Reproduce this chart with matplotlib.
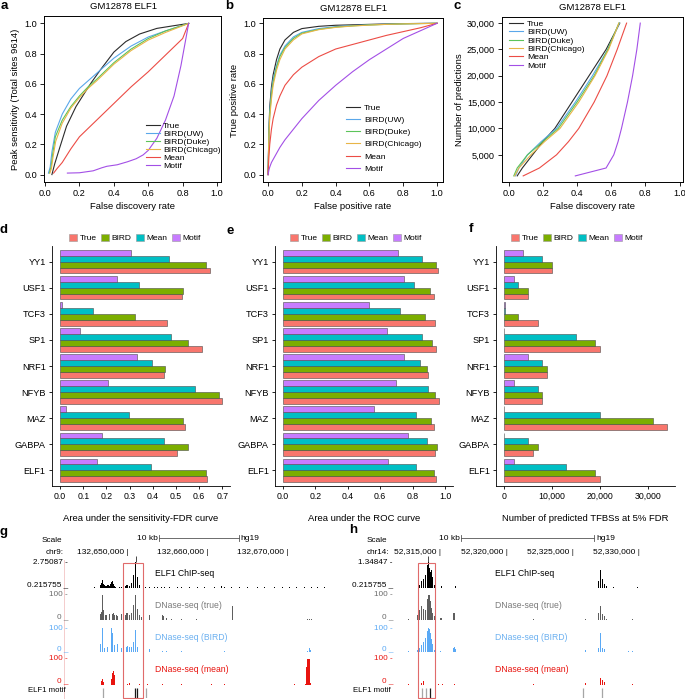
import matplotlib
matplotlib.use("Agg")
import matplotlib.pyplot as plt
import matplotlib.transforms as mtransforms
from matplotlib.patches import Patch, Rectangle
from matplotlib.lines import Line2D
from matplotlib.ticker import FuncFormatter

plt.rcParams['font.family'] = ['Liberation Sans', 'DejaVu Sans']

# ---------------- data ----------------
methods = ['True', 'BIRD(UW)', 'BIRD(Duke)', 'BIRD(Chicago)', 'Mean', 'Motif']

# a: peak sensitivity vs FDR
a_fdr = {
    'True': [0.04, 0.056, 0.086, 0.125, 0.18, 0.23, 0.27, 0.32, 0.40, 0.47, 0.55, 0.65, 0.75, 0.835],
    'BIRD(UW)': [0.02, 0.03, 0.04, 0.06, 0.1, 0.15, 0.2, 0.25, 0.3, 0.4, 0.5, 0.6, 0.7, 0.835],
    'BIRD(Duke)': [0.025, 0.035, 0.045, 0.06, 0.1, 0.15, 0.2, 0.25, 0.3, 0.4, 0.5, 0.6, 0.7, 0.835],
    'BIRD(Chicago)': [0.028, 0.037, 0.047, 0.062, 0.1, 0.15, 0.2, 0.25, 0.3, 0.4, 0.5, 0.6, 0.7, 0.835],
    'Mean': [0.05, 0.07, 0.1, 0.15, 0.2, 0.3, 0.4, 0.5, 0.6, 0.7, 0.8, 0.835],
    'Motif': [0.13, 0.2, 0.28, 0.33, 0.36, 0.42, 0.48, 0.53, 0.57, 0.6, 0.65, 0.7, 0.75, 0.79, 0.835],
}
a_sens = {
    'True': [0.0, 0.07, 0.18, 0.32, 0.45, 0.54, 0.61, 0.69, 0.81, 0.88, 0.93, 0.967, 0.985, 1.0],
    'BIRD(UW)': [0.01, 0.05, 0.15, 0.28, 0.40, 0.50, 0.57, 0.62, 0.67, 0.77, 0.85, 0.91, 0.95, 1.0],
    'BIRD(Duke)': [0.01, 0.05, 0.14, 0.25, 0.36, 0.45, 0.52, 0.58, 0.63, 0.74, 0.83, 0.90, 0.95, 1.0],
    'BIRD(Chicago)': [0.01, 0.04, 0.12, 0.22, 0.34, 0.44, 0.51, 0.57, 0.62, 0.73, 0.82, 0.89, 0.94, 1.0],
    'Mean': [0.01, 0.04, 0.08, 0.17, 0.25, 0.36, 0.47, 0.58, 0.68, 0.79, 0.90, 1.0],
    'Motif': [0.01, 0.012, 0.025, 0.045, 0.055, 0.065, 0.085, 0.105, 0.13, 0.16, 0.24, 0.36, 0.52, 0.72, 1.0],
}

# b: ROC
b_fpr = [0, 0.005, 0.01, 0.02, 0.03, 0.05, 0.07, 0.1, 0.15, 0.2, 0.3, 0.4, 0.5, 0.6, 0.7, 0.8, 0.9, 1.0]
b_tpr = {
    'True': [0, 0.3, 0.45, 0.58, 0.66, 0.76, 0.83, 0.89, 0.94, 0.965, 0.98, 0.987, 0.99, 0.993, 0.996, 0.998, 0.999, 1.0],
    'BIRD(UW)': [0, 0.28, 0.42, 0.55, 0.63, 0.72, 0.79, 0.85, 0.91, 0.94, 0.965, 0.978, 0.985, 0.99, 0.994, 0.997, 0.999, 1.0],
    'BIRD(Duke)': [0, 0.27, 0.40, 0.53, 0.61, 0.71, 0.78, 0.84, 0.90, 0.935, 0.96, 0.975, 0.983, 0.989, 0.993, 0.996, 0.998, 1.0],
    'BIRD(Chicago)': [0, 0.25, 0.38, 0.50, 0.59, 0.69, 0.76, 0.83, 0.89, 0.93, 0.958, 0.973, 0.982, 0.988, 0.993, 0.996, 0.998, 1.0],
    'Mean': [0, 0.12, 0.20, 0.30, 0.37, 0.46, 0.52, 0.59, 0.66, 0.71, 0.78, 0.83, 0.86, 0.89, 0.92, 0.945, 0.97, 1.0],
    'Motif': [0, 0.03, 0.05, 0.08, 0.10, 0.14, 0.18, 0.23, 0.30, 0.37, 0.49, 0.59, 0.68, 0.76, 0.83, 0.90, 0.95, 1.0],
}

# c: number of predictions vs FDR
c_npred = [1000, 2500, 5000, 7500, 10000, 15000, 20000, 25000, 30000]
c_fdr = {
    'True': [0.05, 0.08, 0.14, 0.20, 0.27, 0.37, 0.47, 0.57, 0.65],
    'BIRD(UW)': [0.04, 0.06, 0.11, 0.19, 0.28, 0.39, 0.49, 0.58, 0.648],
    'BIRD(Duke)': [0.03, 0.05, 0.11, 0.20, 0.29, 0.40, 0.50, 0.58, 0.645],
    'BIRD(Chicago)': [0.035, 0.06, 0.13, 0.21, 0.30, 0.41, 0.505, 0.585, 0.645],
    'Mean': [0.085, 0.18, 0.28, 0.35, 0.41, 0.50, 0.575, 0.635, 0.69],
    'Motif': [0.39, 0.57, 0.615, 0.64, 0.66, 0.695, 0.725, 0.75, 0.77],
}

# d-f: per-TF summaries
tfs = ['ELF1', 'GABPA', 'MAZ', 'NFYB', 'NRF1', 'SP1', 'TCF3', 'USF1', 'YY1']
groups = ['True', 'BIRD', 'Mean', 'Motif']
d_true = [0.634, 0.503, 0.54, 0.70, 0.45, 0.611, 0.46, 0.526, 0.646]
d_bird = [0.631, 0.553, 0.529, 0.684, 0.453, 0.553, 0.323, 0.529, 0.631]
d_mean = [0.391, 0.45, 0.296, 0.584, 0.396, 0.477, 0.143, 0.339, 0.470]
d_motif = [0.157, 0.181, 0.027, 0.207, 0.331, 0.086, 0.010, 0.246, 0.307]

e_true = [0.947, 0.940, 0.930, 0.961, 0.893, 0.947, 0.940, 0.930, 0.955]
e_bird = [0.932, 0.951, 0.916, 0.940, 0.887, 0.918, 0.875, 0.910, 0.943]
e_mean = [0.823, 0.891, 0.823, 0.897, 0.848, 0.856, 0.725, 0.807, 0.860]
e_motif = [0.651, 0.772, 0.559, 0.700, 0.745, 0.641, 0.530, 0.745, 0.713]

f_true = [20000, 6000, 34000, 8000, 9000, 20000, 7000, 5000, 10000]
f_bird = [19000, 7000, 31000, 8000, 9000, 19000, 3000, 5000, 10000]
f_mean = [13000, 5000, 20000, 7000, 8000, 15000, 200, 3000, 8000]
f_motif = [2000, 50, 50, 2000, 5000, 50, 200, 2000, 4000]

# g: chr9 window, positions in kb relative to 132,650,000
g_ticks = [0, 10, 20]
g_tick_labels = ['132,650,000', '132,660,000', '132,670,000']
g_chip = [(-6.63, 0.26), (-5.5, 0.25), (-4.75, 0.28), (-4.13, 0.27), (-3.5, 0.4), (-3.38, 0.5), (-3.25, 0.7),
          (-3.13, 0.95), (-3.0, 0.6), (-2.88, 0.5), (-2.75, 0.45), (-2.63, 0.4), (-2.5, 0.5), (-2.38, 0.55),
          (-2.25, 0.45), (-2.13, 0.6), (-2.0, 0.8), (-1.88, 0.9), (-1.75, 0.6), (-1.63, 0.4), (-1.5, 0.3),
          (-1.25, 0.25), (-1.0, 0.3), (-0.75, 0.3), (-0.5, 0.35), (-0.25, 0.45), (-0.13, 0.5), (0.0, 0.55),
          (0.13, 0.45), (0.25, 0.4), (0.38, 0.5), (0.5, 0.7), (0.63, 1.0), (0.75, 1.5), (0.88, 2.2), (1.0, 2.75),
          (1.13, 2.0), (1.25, 1.3), (1.38, 0.8), (1.5, 0.5), (1.63, 0.3), (2.25, 0.28), (2.75, 0.3), (3.38, 0.27),
          (3.75, 0.3), (4.25, 0.28), (4.63, 0.3), (5.25, 0.3), (6.25, 0.33), (6.75, 0.32), (7.75, 0.28),
          (8.75, 0.28), (9.63, 0.27), (10.88, 0.3), (11.75, 0.4), (12.13, 0.35), (13.0, 0.3), (14.0, 0.32),
          (15.0, 0.28), (16.25, 0.28), (17.13, 0.3), (18.38, 0.28), (19.38, 0.3), (20.25, 0.27), (21.13, 0.3),
          (22.13, 0.3), (23.0, 0.32), (23.75, 0.28), (24.63, 0.3)]
g_true = [(-6.75, 2), (-4.5, 3), (-3.38, 25), (-3.25, 33), (-3.13, 100), (-3.0, 40), (-2.75, 20), (-2.63, 20),
          (-2.25, 25), (-1.88, 25), (-1.75, 27), (-1.63, 22), (-1.38, 20), (-1.25, 18), (-0.75, 25), (-0.25, 22),
          (-0.13, 28), (0.0, 30), (0.13, 25), (0.25, 22), (0.38, 28), (0.5, 30), (0.63, 38), (0.75, 60),
          (0.88, 100), (1.0, 100), (1.13, 75), (1.25, 45), (1.5, 20), (1.75, 12), (2.13, 15), (2.38, 12),
          (2.63, 18), (2.75, 20), (2.88, 14), (4.38, 22), (4.5, 18), (4.88, 8), (5.5, 5), (6.75, 5), (8.63, 3),
          (10.63, 2), (13.13, 57), (19.63, 2), (22.5, 3), (22.75, 5), (23.0, 3)]
g_bird = [(-6.75, 2), (-4.5, 2), (-3.38, 35), (-3.13, 100), (-2.88, 15), (-2.5, 22), (-2.0, 100), (-1.88, 80),
          (-1.63, 30), (-1.25, 35), (-0.75, 15), (-0.13, 20), (0.0, 25), (0.13, 18), (0.25, 22), (0.38, 28),
          (0.5, 22), (0.63, 25), (0.75, 40), (0.88, 55), (1.0, 90), (1.13, 40), (1.25, 20), (1.88, 10),
          (2.13, 12), (2.38, 8), (2.63, 20), (2.75, 12), (3.13, 5), (4.38, 5), (4.88, 3), (6.75, 3), (10.5, 2),
          (12.13, 3), (19.63, 2), (22.5, 5), (22.75, 15), (22.88, 8)]
g_mean = [(-6.75, 3), (-4.5, 2), (-3.25, 15), (-3.13, 25), (-3.0, 10), (-2.0, 25), (-1.88, 45), (-1.75, 55),
          (-1.63, 40), (0.0, 5), (0.25, 8), (0.38, 6), (1.5, 3), (2.5, 2), (4.38, 5), (6.75, 2), (10.5, 2),
          (12.13, 2), (20.88, 2), (22.25, 5), (22.38, 70), (22.5, 100), (22.63, 100), (22.75, 100), (22.88, 8)]
g_motif_kb = [-3.13, 0.88, 1.13, 2.25]
g_motif_score = [0.4, 1.0, 1.0, 0.4]

# h: chr14 window, positions in kb relative to 52,315,000
h_ticks = [0, 5, 10, 15]
h_tick_labels = ['52,315,000', '52,320,000', '52,325,000', '52,330,000']
h_chip = [(-1.66, 0.3), (-1.58, 0.35), (-1.51, 0.4), (-1.43, 0.5), (-1.36, 0.45), (-1.28, 0.6), (-1.21, 0.7),
          (-1.13, 0.8), (-1.06, 1.0), (-0.98, 1.2), (-0.90, 1.35), (-0.83, 1.1), (-0.75, 0.9), (-0.68, 1.0),
          (-0.60, 0.7), (-0.53, 0.5), (-0.45, 0.35), (-0.38, 0.28), (0.08, 0.3), (0.60, 0.28), (1.13, 0.3),
          (9.27, 0.24), (11.98, 0.5), (12.06, 1.0), (12.13, 0.9), (12.21, 0.8), (12.28, 0.6), (12.36, 0.5),
          (12.43, 0.4), (12.51, 0.35), (12.58, 0.3), (12.81, 0.26), (13.04, 0.25), (14.92, 0.24)]
h_true = [(-2.41, 6), (-1.73, 20), (-1.66, 30), (-1.58, 40), (-1.51, 35), (-1.43, 55), (-1.36, 62), (-1.28, 45),
          (-1.21, 35), (-1.13, 40), (-1.06, 60), (-0.98, 85), (-0.90, 100), (-0.83, 100), (-0.75, 75),
          (-0.68, 50), (-0.60, 30), (-0.53, 22), (-0.45, 15), (-0.08, 8), (0.0, 10), (0.08, 8), (0.60, 10),
          (0.90, 15), (0.98, 28), (1.06, 28), (4.37, 3), (7.01, 3), (10.93, 3), (11.00, 4), (11.91, 20),
          (11.98, 30), (12.06, 57), (12.13, 30), (12.21, 25), (12.28, 25), (12.36, 22), (12.43, 15),
          (12.51, 10), (12.58, 5), (14.17, 10), (14.54, 3)]
h_bird = [(-2.41, 5), (-1.73, 8), (-1.66, 12), (-1.58, 18), (-1.51, 20), (-1.43, 28), (-1.36, 32), (-1.28, 40),
          (-1.21, 48), (-1.13, 58), (-1.06, 70), (-0.98, 88), (-0.90, 100), (-0.83, 95), (-0.75, 80),
          (-0.68, 55), (-0.60, 35), (-0.53, 15), (-0.45, 8), (0.0, 5), (0.98, 15), (1.06, 22), (1.13, 12),
          (4.37, 2), (7.01, 2), (10.93, 6), (11.00, 8), (11.98, 15), (12.06, 80), (12.13, 60), (12.21, 25),
          (12.28, 18), (12.36, 15), (12.43, 12), (12.51, 8), (14.17, 12), (14.24, 6), (14.54, 3)]
h_mean = [(-2.41, 3), (-1.66, 3), (-1.43, 8), (-1.36, 18), (-1.28, 15), (-1.21, 6), (-0.15, 3), (0.15, 3),
          (1.06, 5), (4.37, 3), (7.01, 4), (10.93, 5), (11.00, 8), (12.06, 22), (12.13, 27), (12.21, 25),
          (12.28, 20), (12.36, 18), (12.43, 12), (12.51, 6), (14.17, 5), (14.54, 5)]
h_motif_kb = [-1.36, -1.06, -0.75, 10.78, 12.21]
h_motif_score = [0.4, 0.4, 1.0, 0.4, 0.4]

# ---------------- layout helpers ----------------
W, H = 685, 699
fig = plt.figure(figsize=(W / 100, H / 100), dpi=100)


def box(l, t, r, b):
    return fig.add_axes([l / W, 1 - b / H, (r - l) / W, (b - t) / H])


def ftxt(x, y, s, **kw):
    kw.setdefault('fontsize', 5.9)
    kw.setdefault('va', 'center')
    fig.text(x / W, 1 - y / H, s, **kw)


line_colors = ['#2b2b2b', '#5aa7ea', '#5cc45a', '#e8b547', '#ec4c45', '#a34fe6']
bar_colors = ['#F8766D', '#7CAE00', '#00BFC4', '#C77CFF']


def style_curve_ax(ax):
    for s in ax.spines.values():
        s.set_linewidth(0.7)
    ax.tick_params(direction='out', length=3, width=0.6, labelsize=6.6, pad=2)


# ---------------- a ----------------
ax = box(44, 16, 221, 182)
for m, col in zip(methods, line_colors):
    ax.plot(a_fdr[m], a_sens[m], color=col, lw=0.8, label=m)
ax.set_xlim(-0.006, 1.023)
ax.set_ylim(-0.049, 1.049)
ax.set_xticks([0, 0.2, 0.4, 0.6, 0.8, 1.0])
ax.set_yticks([0, 0.2, 0.4, 0.6, 0.8, 1.0])
ax.xaxis.set_major_formatter(FuncFormatter(lambda v, p: f'{v:.1f}'))
ax.yaxis.set_major_formatter(FuncFormatter(lambda v, p: f'{v:.1f}'))
style_curve_ax(ax)
ax.set_title('GM12878 ELF1', fontsize=6.8, x=0.45, pad=5)
ax.set_xlabel('False discovery rate', fontsize=6.8, labelpad=3)
ax.set_ylabel('Peak sensitivity (Total sites 9614)', fontsize=6.8, labelpad=3)
ax.legend(loc='upper left', bbox_to_anchor=(146 / W, 1 - 122 / H), bbox_transform=fig.transFigure,
          frameon=False, fontsize=6.1, handlelength=1.6, handletextpad=0.4, labelspacing=0.0,
          borderpad=0, borderaxespad=0)

# ---------------- b ----------------
ax = box(263, 18, 443, 182)
for m, col in zip(methods, line_colors):
    ax.plot(b_fpr, b_tpr[m], color=col, lw=0.8, label=m)
ax.set_xlim(-0.03, 1.035)
ax.set_ylim(-0.049, 1.035)
ax.set_xticks([0, 0.2, 0.4, 0.6, 0.8, 1.0])
ax.set_yticks([0, 0.2, 0.4, 0.6, 0.8, 1.0])
ax.xaxis.set_major_formatter(FuncFormatter(lambda v, p: f'{v:.1f}'))
ax.yaxis.set_major_formatter(FuncFormatter(lambda v, p: f'{v:.1f}'))
style_curve_ax(ax)
ax.set_title('GM12878 ELF1', fontsize=6.8, pad=5)
ax.set_xlabel('False positive rate', fontsize=6.8, labelpad=3)
ax.set_ylabel('True positive rate', fontsize=6.8, labelpad=3)
ax.legend(loc='upper left', bbox_to_anchor=(346 / W, 1 - 104 / H), bbox_transform=fig.transFigure,
          frameon=False, fontsize=6.1, handlelength=1.6, handletextpad=0.5, labelspacing=0.5,
          borderpad=0, borderaxespad=0)

# ---------------- c ----------------
ax = box(502, 17, 683, 182)
for m, col in zip(methods, line_colors):
    ax.plot(c_fdr[m], c_npred, color=col, lw=0.8, label=m)
ax.set_xlim(-0.039, 1.02)
ax.set_ylim(-160, 31160)
ax.set_xticks([0, 0.2, 0.4, 0.6, 0.8, 1.0])
ax.set_yticks([5000, 10000, 15000, 20000, 25000, 30000])
ax.xaxis.set_major_formatter(FuncFormatter(lambda v, p: f'{v:.1f}'))
ax.yaxis.set_major_formatter(FuncFormatter(lambda v, p: f'{int(v):,}'))
style_curve_ax(ax)
ax.set_title('GM12878 ELF1', fontsize=6.8, pad=5)
ax.set_xlabel('False discovery rate', fontsize=6.8, labelpad=3)
ax.set_ylabel('Number of predictions', fontsize=6.8, labelpad=2)
ax.legend(loc='upper left', bbox_to_anchor=(509 / W, 1 - 20 / H), bbox_transform=fig.transFigure,
          frameon=False, fontsize=6.1, handlelength=1.6, handletextpad=0.5, labelspacing=0.05,
          borderpad=0, borderaxespad=0)


# ---------------- d, e, f ----------------
def bar_panel(frame, series, xlim, xticks, fmt, xlabel, legend_x):
    ax = box(*frame)
    pos = range(1, len(tfs) + 1)
    for k, (vals, col) in enumerate(zip(series, bar_colors)):
        ax.barh([p + (k - 1.5) * 0.225 for p in pos], vals, height=0.225, color=col,
                edgecolor='#4a4a4a', linewidth=0.4)
    ax.set_ylim(0.4, 9.6)
    ax.set_xlim(*xlim)
    ax.set_yticks(list(pos))
    ax.set_yticklabels(tfs)
    ax.set_xticks(xticks)
    ax.xaxis.set_major_formatter(FuncFormatter(fmt))
    for s in ['top', 'right']:
        ax.spines[s].set_visible(False)
    for s in ['left', 'bottom']:
        ax.spines[s].set_linewidth(0.6)
    ax.tick_params(axis='y', direction='out', length=2.5, width=0.6, labelsize=6.6, pad=2)
    ax.tick_params(axis='x', direction='out', length=2.5, width=0.6, labelsize=6.3, pad=2)
    ax.set_xlabel(xlabel, fontsize=6.8, labelpad=9)
    handles = [Patch(facecolor=c, edgecolor='#9a9a9a', linewidth=0.4) for c in bar_colors]
    ax.legend(handles, groups, ncol=4, loc='center', bbox_to_anchor=(legend_x / W, 1 - 238 / H),
              bbox_transform=fig.transFigure, frameon=False, fontsize=6.0, handlelength=0.9,
              handleheight=0.9, handletextpad=0.3, columnspacing=0.6, borderpad=0)
    return ax


bar_panel((52, 246, 230, 486), [d_true, d_bird, d_mean, d_motif], (-0.035, 0.733),
          [0, 0.1, 0.2, 0.3, 0.4, 0.5, 0.6, 0.7], lambda v, p: f'{v:.1f}',
          'Area under the sensitivity-FDR curve', 135)
bar_panel((275, 246, 453, 486), [e_true, e_bird, e_mean, e_motif], (-0.05, 1.05),
          [0, 0.2, 0.4, 0.6, 0.8, 1.0], lambda v, p: f'{v:.1f}',
          'Area under the ROC curve', 356)
bar_panel((496, 246, 675, 486), [f_true, f_bird, f_mean, f_motif], (-1700, 35700),
          [0, 10000, 20000, 30000], lambda v, p: f'{int(v):,}',
          'Number of predicted TFBSs at 5% FDR', 577)

# ---------------- g, h genome browser ----------------
chip_lo = 0.215755


def browser(l, r, xlim, kb_per_px, chip, chip_hi, true, bird, mean, motif_kb, motif_score,
            ticks, tick_labels, scale_bar, hl):
    w = kb_per_px * 0.95
    # ChIP-seq
    ax = box(l, 562, r, 588)
    ax.set_xlim(*xlim)
    ax.set_ylim(chip_lo, chip_hi)
    ax.bar([p for p, v in chip], [v for p, v in chip], width=w, color='black', linewidth=0)
    top = max(chip, key=lambda t: t[1])
    ax.vlines(top[0], chip_hi, chip_hi + (chip_hi - chip_lo) * 0.22, color='black', lw=0.5, clip_on=False)
    ax.axis('off')
    tr = mtransforms.blended_transform_factory(ax.transData, fig.transFigure)
    for t, lab in zip(ticks, tick_labels):
        ax.text(t + kb_per_px, 1 - 552 / H, lab + ' |', transform=tr, ha='right', va='center', fontsize=6.0)
    x0, x1 = scale_bar
    ax.plot([x0, x1], [1 - 538 / H] * 2, transform=tr, color='#555555', lw=0.6, clip_on=False)
    for xb in (x0, x1):
        ax.plot([xb, xb], [1 - 535 / H, 1 - 541 / H], transform=tr, color='#555555', lw=0.6, clip_on=False)
    ax.text(x0 - kb_per_px, 1 - 539 / H, '10 kb', transform=tr, ha='right', va='center', fontsize=6.0)
    ax.text(x1 + 2 * kb_per_px, 1 - 539 / H, 'hg19', transform=tr, ha='left', va='center', fontsize=6.0)
    # DNase tracks
    for (t, b), data, col in [((595, 620), true, '#5e5e5e'), ((628, 652), bird, '#5aa9f5'),
                              ((659, 685), mean, '#e8140f')]:
        ax = box(l, t, r, b)
        ax.set_xlim(*xlim)
        ax.set_ylim(0, 100)
        ax.bar([p for p, v in data], [v for p, v in data], width=w, color=col, linewidth=0)
        ax.axis('off')
    # motif track
    ax = box(l, 688, r, 698)
    ax.set_xlim(*xlim)
    ax.set_ylim(0, 1)
    ax.vlines(motif_kb, 0, 1, colors=[str(0.65 - 0.55 * (s - 0.4) / 0.6) for s in motif_score], lw=0.9)
    ax.axis('off')
    # highlight box
    hx0, hx1 = hl
    fig.add_artist(Rectangle((hx0 / W, 1 - 698 / H), (hx1 - hx0) / W, 135 / H, transform=fig.transFigure,
                             fill=False, edgecolor='#e06b6b', lw=0.8))


browser(66, 335, (-7.75, 25.9), 0.125, g_chip, 2.75087, g_true, g_bird, g_mean, g_motif_kb, g_motif_score,
        g_ticks, g_tick_labels, (3.9, 13.85), (123, 143))
browser(398, 645, (-3.17, 15.45), 0.0754, h_chip, 1.34847, h_true, h_bird, h_mean, h_motif_kb, h_motif_score,
        h_ticks, h_tick_labels, (1.58, 11.6), (418, 435))

fig.add_artist(Line2D([64 / W, 64 / W], [1 - 560 / H, 0], transform=fig.transFigure, color='#f3c4c4', lw=0.6))

for x0, chrom, top_lab in [(68, 'chr9:', '2.75087 -'), (393, 'chr14:', '1.34847 -')]:
    ftxt(x0 - 6, 541, 'Scale', ha='right')
    ftxt(x0 - 4, 552, chrom, ha='right')
    ftxt(x0, 562, top_lab, ha='right')
    ftxt(x0, 585, '0.215755 _', ha='right')
    ftxt(x0, 595, '100 -', ha='right', color='#6a6a6a')
    ftxt(x0, 617, '0 _', ha='right', color='#6a6a6a')
    ftxt(x0, 628, '100 -', ha='right', color='#5aa9f5')
    ftxt(x0, 649, '0 _', ha='right', color='#5aa9f5')
    ftxt(x0, 659, '100 -', ha='right', color='#e8140f')
    ftxt(x0, 681, '0 _', ha='right', color='#e8140f')
    ftxt(x0 - 2, 691, 'ELF1 motif', ha='right', fontsize=5.6)

for x0 in (155, 495):
    ftxt(x0, 573, 'ELF1 ChIP-seq', fontsize=6.2)
    ftxt(x0, 606, 'DNase-seq (true)', fontsize=6.2, color='#7a7a7a')
    ftxt(x0, 638, 'DNase-seq (BIRD)', fontsize=6.2, color='#6bb0f0')
    ftxt(x0, 670, 'DNase-seq (mean)', fontsize=6.2, color='#e8140f')

# panel letters
for lab, x, y in [('a', 4, 6), ('b', 229, 6), ('c', 457, 6), ('d', 4, 230), ('e', 230, 231),
                  ('f', 471, 229), ('g', 4, 532), ('h', 353, 530)]:
    ftxt(x, y, lab, fontsize=9.5, fontweight='bold', ha='center')

fig.savefig('out.png', dpi=100)
